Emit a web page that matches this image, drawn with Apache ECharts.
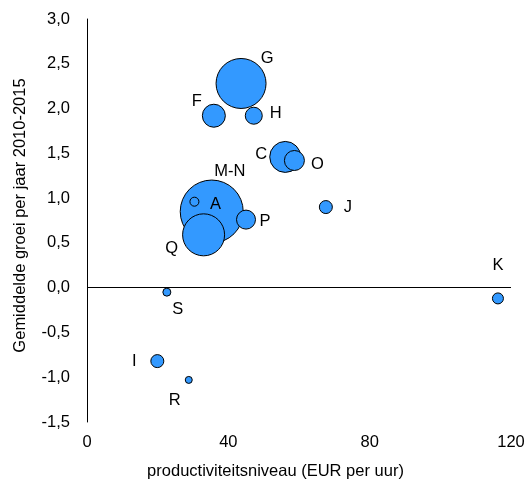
<!DOCTYPE html>
<html>
<head>
<meta charset="utf-8">
<script src="https://cdn.jsdelivr.net/npm/echarts@6/dist/echarts.min.js"></script>
<style>
  html, body { margin: 0; padding: 0; background: #fff; }
  #chart { width: 525px; height: 482px; }
</style>
</head>
<body>
<div id="chart"></div>
<script>
// sectoren
const sectors = ['G', 'F', 'H', 'C', 'O', 'M-N', 'A', 'Q', 'P', 'J', 'K', 'S', 'I', 'R']
// productiviteitsniveau (EUR per uur)
const productivity = [43.6, 35.9, 47.2, 56.1, 58.7, 35.3, 30.4, 33.0, 45.0, 67.6, 116.3, 22.6, 19.9, 28.8]
// gemiddelde groei per jaar 2010-2015
const growth = [2.28, 1.92, 1.92, 1.46, 1.42, 0.85, 0.96, 0.59, 0.76, 0.90, -0.12, -0.05, -0.82, -1.03]
// bubbelgrootte (omvang sector)
const bubbleSize = [50, 23, 17, 31, 20, 63, 9, 42, 19, 13, 11, 8, 13, 7]

const xTicks = [0, 40, 80, 120]
const yTicks = [-1.5, -1.0, -0.5, 0.0, 0.5, 1.0, 1.5, 2.0, 2.5, 3.0]

// label verschuiving t.o.v. middelpunt bubbel
const labelOffsets = {
  'G': [26, -25], 'F': [-17, -14], 'H': [22, -2], 'C': [-24, -2], 'O': [23, 4],
  'M-N': [18, -40], 'A': [21, 3], 'Q': [-32, 14], 'P': [19, 2], 'J': [22, 0],
  'K': [0, -33], 'S': [11, 17], 'I': [-23, 0], 'R': [-14, 21]
}

const fontFamily = 'Liberation Sans, Arial, sans-serif'

const chart = echarts.init(document.getElementById('chart'))

const points = sectors.map((name, i) => ({
  name: name,
  value: [productivity[i], growth[i], bubbleSize[i]],
  label: { offset: labelOffsets[name] }
}))

chart.setOption({
  animation: false,
  grid: { left: 87, right: 14, top: 19, bottom: 60, containLabel: false, outerBoundsMode: 'none' },
  xAxis: {
    type: 'value',
    min: xTicks[0],
    max: xTicks[xTicks.length - 1],
    interval: 40,
    name: 'productiviteitsniveau (EUR per uur)',
    nameLocation: 'middle',
    nameGap: 41,
    nameTextStyle: { color: '#000', fontSize: 16.5, fontFamily: fontFamily, padding: [0, 47, 0, 0] },
    axisLine: { show: false },
    axisTick: { show: false },
    splitLine: { show: false },
    axisLabel: { color: '#000', fontSize: 16.5, fontFamily: fontFamily, margin: 12 }
  },
  yAxis: {
    type: 'value',
    min: yTicks[0],
    max: yTicks[yTicks.length - 1],
    interval: 0.5,
    name: 'Gemiddelde groei per jaar 2010-2015',
    nameLocation: 'middle',
    nameGap: 58,
    nameTextStyle: { color: '#000', fontSize: 16.5, fontFamily: fontFamily, padding: [0, 0, 0, 10] },
    axisLine: { show: true, onZero: false, lineStyle: { color: '#000', width: 1 } },
    axisTick: { show: false },
    splitLine: { show: false },
    axisLabel: {
      color: '#000', fontSize: 16.5, fontFamily: fontFamily, margin: 17,
      formatter: v => v.toFixed(1).replace('.', ',')
    }
  },
  series: [{
    type: 'scatter',
    data: points,
    symbolSize: v => v[2],
    itemStyle: { color: '#3399ff', borderColor: '#000', borderWidth: 1, opacity: 1 },
    label: {
      show: true,
      position: 'inside',
      formatter: '{b}',
      color: '#000',
      fontSize: 16.5,
      fontFamily: fontFamily
    },
    markLine: {
      silent: true,
      symbol: 'none',
      label: { show: false },
      lineStyle: { color: '#000', width: 1, type: 'solid' },
      data: [{ yAxis: 0 }]
    },
    z: 3
  }]
})
</script>
</body>
</html>
